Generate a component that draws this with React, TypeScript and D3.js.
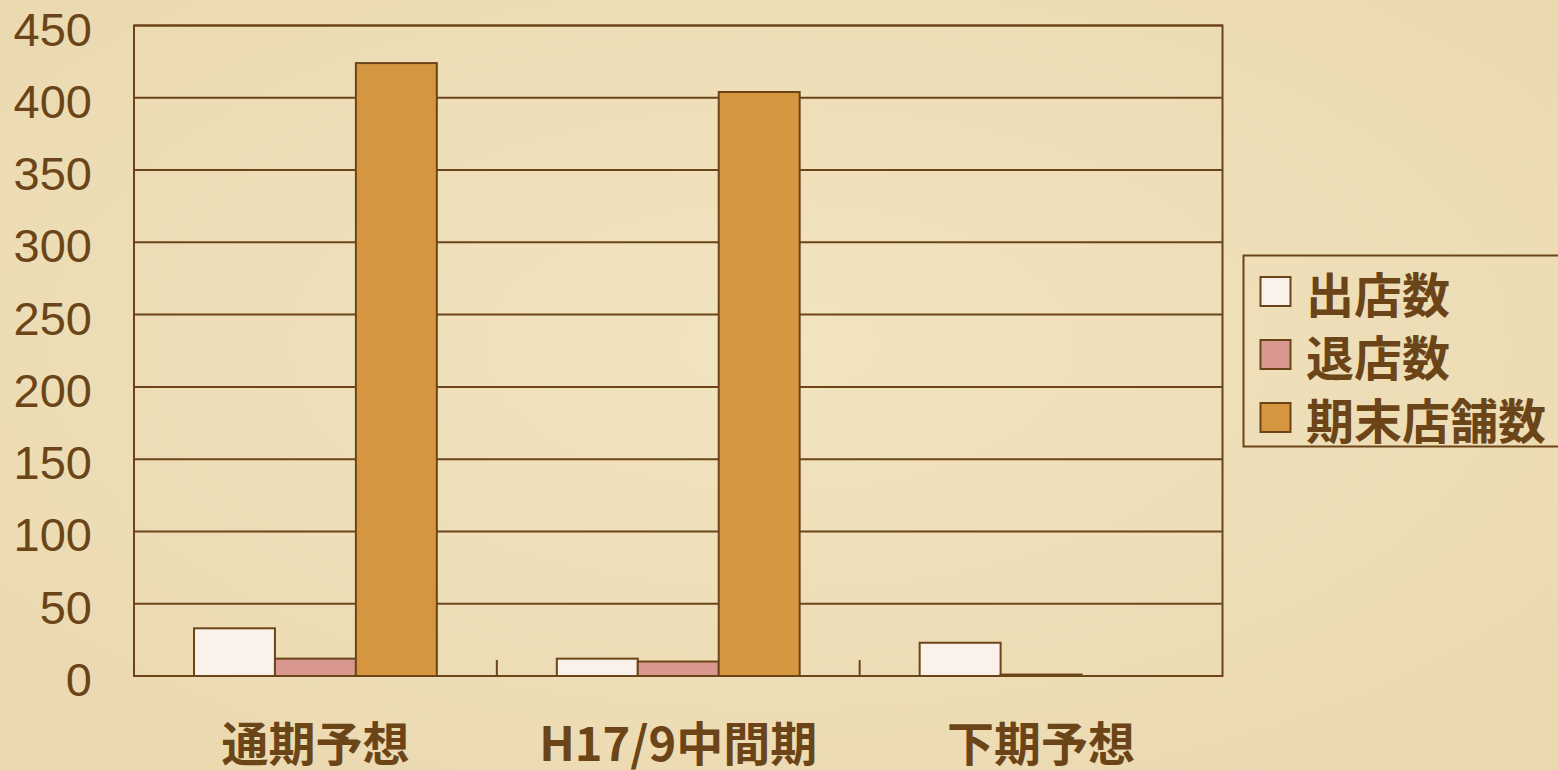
import React from "react";
import * as d3 from "d3";

const categories = ["通期予想", "H17/9中間期", "下期予想"];
const seriesNames = ["出店数", "退店数", "期末店舗数"];
const openings = [33, 12, 23];
const closings = [12, 10, 1];
const storeTotals = [424, 404, 0];
const yTicks = [0, 50, 100, 150, 200, 250, 300, 350, 400, 450];
const seriesColors = ["#faf2ea", "#d89890", "#d6963f"];

const W = 1558;
const H = 770;
const ink = "#6b4518";
const cjk = "'Noto Sans CJK JP', 'Noto Sans CJK SC', sans-serif";

export default function App() {
  const left = 134, right = 1222.5, top = 25.5, bottom = 676;
  const x0 = d3.scaleBand<string>().domain(categories).range([left, right]).paddingInner(0).paddingOuter(0);
  const bw = x0.bandwidth();
  const inner = 60 / bw; // gap ratio per side
  const x1 = d3.scaleBand<string>().domain(seriesNames).range([bw * inner, bw * (1 - inner)]).padding(0);
  const y = d3.scaleLinear().domain([0, 450]).range([bottom, top]);
  const values = [openings, closings, storeTotals];

  return (
    <svg width={W} height={H} style={{ position: "absolute", left: 0, top: 0 }}>
      <defs>
        <radialGradient id="bg" cx="50%" cy="45%" r="75%">
          <stop offset="0%" stopColor="#f2e4c0" />
          <stop offset="100%" stopColor="#ead8ae" />
        </radialGradient>
      </defs>
      <rect x={0} y={0} width={W} height={H} fill="url(#bg)" />
      {/* gridlines */}
      {yTicks.map((t) => (
        <line key={t} x1={left} x2={right} y1={y(t)} y2={y(t)} stroke={ink} strokeWidth={2} />
      ))}
      {/* frame */}
      <rect x={left} y={top} width={right - left} height={bottom - top} fill="none" stroke={ink} strokeWidth={2} />
      {/* category ticks */}
      {categories.slice(1).map((c) => (
        <line key={c} x1={x0(c)!} x2={x0(c)!} y1={bottom} y2={bottom - 16} stroke={ink} strokeWidth={2} />
      ))}
      {/* bars */}
      {categories.map((c, ci) =>
        seriesNames.map((s, si) => {
          const v = values[si][ci];
          if (v <= 0) return null;
          const bx = x0(c)! + x1(s)!;
          return (
            <rect key={c + s} x={bx} y={y(v)} width={x1.bandwidth()} height={bottom - y(v)}
              fill={seriesColors[si]} stroke={ink} strokeWidth={2} />
          );
        })
      )}
      {/* y labels */}
      {yTicks.map((t) => (
        <text key={t} x={92} y={y(t) + 3.5} textAnchor="end" dominantBaseline="central"
          fontFamily="'Liberation Sans', Arial, sans-serif" fontSize={47} fill={ink}>{t}</text>
      ))}
      {/* x labels */}
      {categories.map((c) => (
        <text key={c} x={x0(c)! + bw / 2} y={740} textAnchor="middle" dominantBaseline="central"
          fontFamily={cjk} fontWeight={700} fontSize={47} fill={ink}>{c}</text>
      ))}
      {/* legend */}
      <rect x={1243.5} y={255.5} width={330} height={191} fill="none" stroke={ink} strokeWidth={2} />
      {seriesNames.map((s, i) => (
        <g key={s} transform={`translate(0, ${291.5 + i * 63})`}>
          <rect x={1260.5} y={-14.5} width={30} height={29} fill={seriesColors[i]} stroke={ink} strokeWidth={2} />
          <text x={1306} y={0} dominantBaseline="central" fontFamily={cjk} fontWeight={700}
            fontSize={48} fill={ink}>{s}</text>
        </g>
      ))}
    </svg>
  );
}
